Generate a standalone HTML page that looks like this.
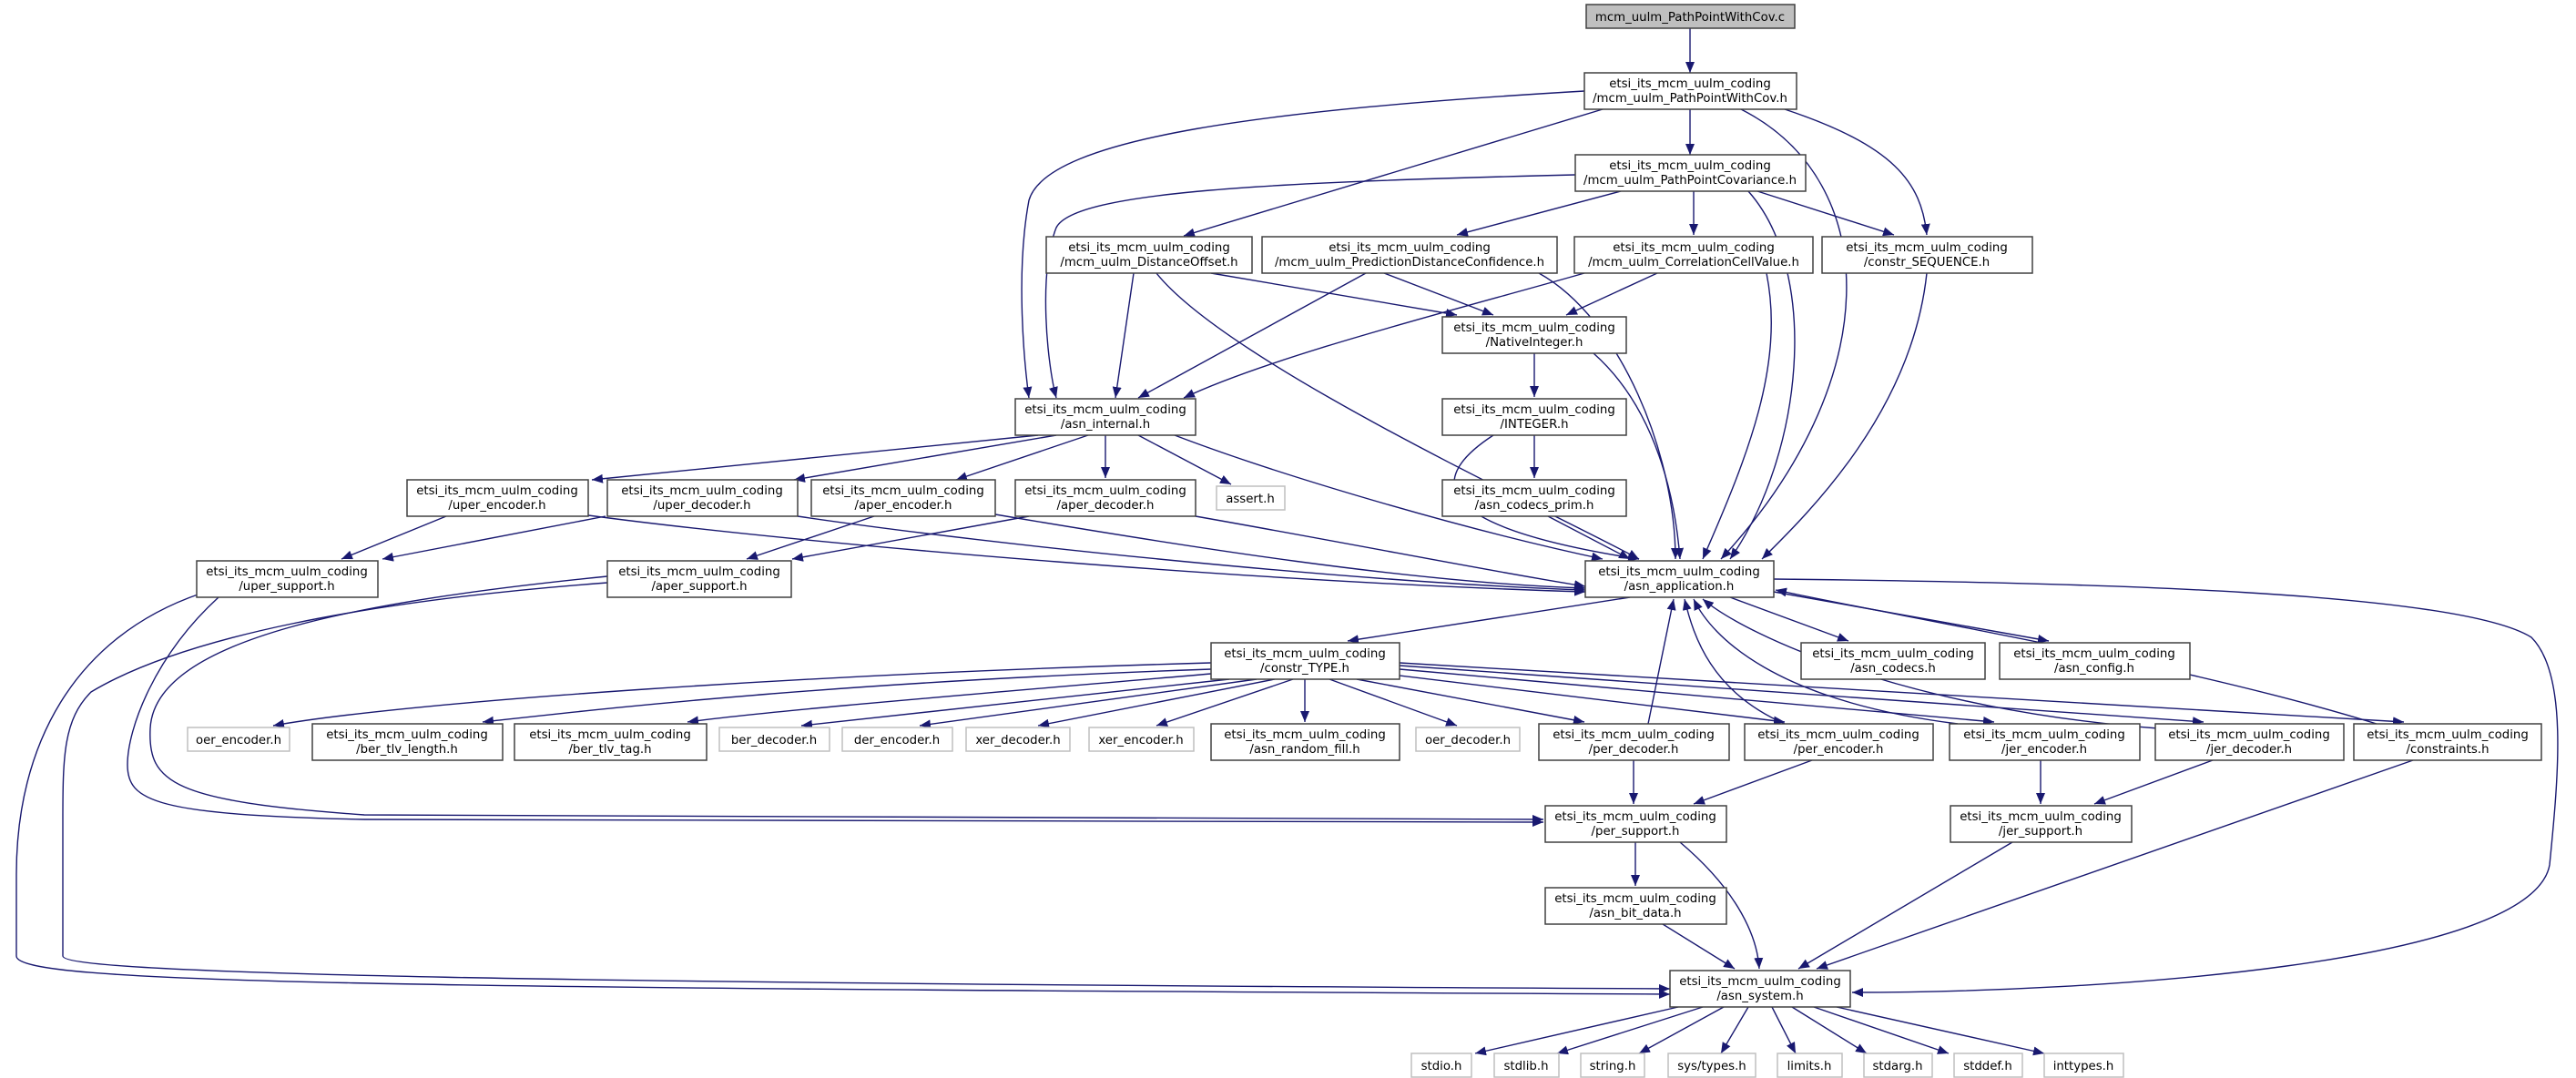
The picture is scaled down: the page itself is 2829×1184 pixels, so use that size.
<!DOCTYPE html>
<html><head><meta charset="utf-8"><style>
html,body{margin:0;padding:0;background:#fff;}
svg{display:block;}
text{font-family:"DejaVu Sans","Liberation Sans",sans-serif;font-size:13.3px;fill:#000;text-anchor:middle;}
.n{fill:#fff;stroke:#404040;stroke-width:1.5;}
.g{fill:#fff;stroke:#bfbfbf;stroke-width:1.5;}
.e{fill:none;stroke:#191970;stroke-width:1.4;marker-end:url(#a);}
</style></head><body>
<svg width="2829" height="1184" viewBox="0 0 2829 1184" xmlns="http://www.w3.org/2000/svg">
<defs><marker id="a" markerWidth="12" markerHeight="10" refX="12" refY="5" orient="auto" markerUnits="userSpaceOnUse"><path d="M0,0 L12,5 L0,10 z" fill="#191970"/></marker></defs>
<g>
<path class="e" d="M1856,31 L1856,80"/>
<path class="e" d="M1856,120 L1856,170"/>
<path class="e" d="M1760,120 L1300,259"/>
<path class="e" d="M1740,100 C1400,120 1150,150 1130,220 C1115,300 1125,400 1130,437"/>
<path class="e" d="M1912,120 C2070,200 2070,420 1890,614"/>
<path class="e" d="M1960,120 C2080,160 2110,200 2116,258"/>
<path class="e" d="M1780,210 L1600,258"/>
<path class="e" d="M1860,210 L1860,258"/>
<path class="e" d="M1930,210 L2080,258"/>
<path class="e" d="M1730,192 C1400,200 1180,210 1160,250 C1140,300 1150,400 1160,437"/>
<path class="e" d="M1920,210 C2000,300 1980,500 1900,614"/>
<path class="e" d="M1245,300 L1225,437"/>
<path class="e" d="M1330,300 L1600,346"/>
<path class="e" d="M1270,300 C1350,400 1700,560 1800,614"/>
<path class="e" d="M1520,300 L1640,346"/>
<path class="e" d="M1500,300 L1250,437"/>
<path class="e" d="M1690,300 C1780,350 1840,500 1840,614"/>
<path class="e" d="M1820,300 L1720,346"/>
<path class="e" d="M1740,300 C1600,340 1400,390 1300,437"/>
<path class="e" d="M1940,300 C1960,400 1920,500 1870,614"/>
<path class="e" d="M2116,300 C2100,450 1990,560 1935,614"/>
<path class="e" d="M1685,388 L1685,436"/>
<path class="e" d="M1750,388 C1820,450 1840,550 1845,614"/>
<path class="e" d="M1685,478 L1685,525"/>
<path class="e" d="M1640,478 C1560,530 1580,580 1800,614"/>
<path class="e" d="M1700,567 L1790,614"/>
<path class="e" d="M1140,478 L650,527"/>
<path class="e" d="M1160,478 L872,527"/>
<path class="e" d="M1195,478 L1050,527"/>
<path class="e" d="M1214,478 L1214,525"/>
<path class="e" d="M1250,478 L1352,532"/>
<path class="e" d="M1290,478 C1400,520 1600,580 1760,614"/>
<path class="e" d="M490,567 L375,614"/>
<path class="e" d="M646,566 C900,600 1400,640 1741,650"/>
<path class="e" d="M665,567 L420,614"/>
<path class="e" d="M876,567 C1100,600 1500,640 1741,648"/>
<path class="e" d="M960,567 L820,614"/>
<path class="e" d="M1093,565 C1300,600 1550,640 1741,646"/>
<path class="e" d="M1130,567 L870,614"/>
<path class="e" d="M1313,567 C1500,600 1650,630 1741,644"/>
<path class="e" d="M220,652 C80,700 18,820 18,960 L18,1050 C18,1080 400,1085 1834,1092"/>
<path class="e" d="M667,640 C400,660 200,700 100,760 C70,790 69,830 69,900 L69,1050 C69,1070 600,1080 1834,1086"/>
<path class="e" d="M240,656 C170,720 140,800 140,840 C140,880 170,895 400,900 L1695,903"/>
<path class="e" d="M667,633 C400,660 170,700 165,800 C162,860 190,880 400,895 L1695,900"/>
<path class="e" d="M1790,656 L1480,704"/>
<path class="e" d="M1900,656 L2030,704"/>
<path class="e" d="M1948,650 L2250,704"/>
<path class="e" d="M1948,636 C2300,640 2700,650 2780,700 C2820,740 2810,850 2800,950 C2780,1060 2300,1090 2034,1090"/>
<path class="e" d="M1330,728 C900,740 450,770 300,797"/>
<path class="e" d="M1330,735 C900,750 650,780 530,793"/>
<path class="e" d="M1330,740 C1100,760 850,780 755,793"/>
<path class="e" d="M1350,746 L880,797"/>
<path class="e" d="M1380,746 L1010,797"/>
<path class="e" d="M1400,746 L1140,797"/>
<path class="e" d="M1420,746 L1270,797"/>
<path class="e" d="M1433,746 L1433,793"/>
<path class="e" d="M1460,746 L1600,797"/>
<path class="e" d="M1490,746 L1740,793"/>
<path class="e" d="M1520,740 L1960,793"/>
<path class="e" d="M1537,735 L2190,793"/>
<path class="e" d="M1537,731 L2420,793"/>
<path class="e" d="M1537,728 L2640,793"/>
<path class="e" d="M1810,795 L1838,658"/>
<path class="e" d="M1960,795 C1880,760 1860,700 1850,658"/>
<path class="e" d="M2150,795 C1950,770 1880,700 1860,658"/>
<path class="e" d="M2370,800 C2100,780 1920,700 1870,658"/>
<path class="e" d="M2610,795 C2400,730 2100,680 1950,648"/>
<path class="e" d="M1794,835 L1794,883"/>
<path class="e" d="M1990,835 L1860,883"/>
<path class="e" d="M2241,835 L2241,883"/>
<path class="e" d="M2430,835 L2300,883"/>
<path class="e" d="M1796,925 L1796,973"/>
<path class="e" d="M1845,925 C1910,980 1930,1030 1932,1064"/>
<path class="e" d="M1826,1015 L1905,1064"/>
<path class="e" d="M2210,925 L1975,1064"/>
<path class="e" d="M2650,835 L1995,1064"/>
<path class="e" d="M1843,1106 L1620,1157"/>
<path class="e" d="M1870,1106 L1710,1157"/>
<path class="e" d="M1893,1106 L1800,1157"/>
<path class="e" d="M1920,1106 L1890,1157"/>
<path class="e" d="M1946,1106 L1972,1157"/>
<path class="e" d="M1968,1106 L2050,1157"/>
<path class="e" d="M1992,1106 L2140,1157"/>
<path class="e" d="M2017,1106 L2245,1157"/>
</g>
<g>
<rect x="1742" y="5" width="229" height="26" fill="#bfbfbf" stroke="#404040" stroke-width="1.5"/><text x="1856" y="23">mcm_uulm_PathPointWithCov.c</text>
<rect class="n" x="1740" y="80" width="233" height="40"/><text x="1856" y="96">etsi_its_mcm_uulm_coding</text><text x="1856" y="112">/mcm_uulm_PathPointWithCov.h</text>
<rect class="n" x="1730" y="170" width="253" height="40"/><text x="1856" y="186">etsi_its_mcm_uulm_coding</text><text x="1856" y="202">/mcm_uulm_PathPointCovariance.h</text>
<rect class="n" x="1149" y="260" width="226" height="40"/><text x="1262" y="276">etsi_its_mcm_uulm_coding</text><text x="1262" y="292">/mcm_uulm_DistanceOffset.h</text>
<rect class="n" x="1386" y="260" width="324" height="40"/><text x="1548" y="276">etsi_its_mcm_uulm_coding</text><text x="1548" y="292">/mcm_uulm_PredictionDistanceConfidence.h</text>
<rect class="n" x="1729" y="260" width="262" height="40"/><text x="1860" y="276">etsi_its_mcm_uulm_coding</text><text x="1860" y="292">/mcm_uulm_CorrelationCellValue.h</text>
<rect class="n" x="2001" y="260" width="231" height="40"/><text x="2116" y="276">etsi_its_mcm_uulm_coding</text><text x="2116" y="292">/constr_SEQUENCE.h</text>
<rect class="n" x="1584" y="348" width="202" height="40"/><text x="1685" y="364">etsi_its_mcm_uulm_coding</text><text x="1685" y="380">/NativeInteger.h</text>
<rect class="n" x="1115" y="438" width="198" height="40"/><text x="1214" y="454">etsi_its_mcm_uulm_coding</text><text x="1214" y="470">/asn_internal.h</text>
<rect class="n" x="1584" y="438" width="202" height="40"/><text x="1685" y="454">etsi_its_mcm_uulm_coding</text><text x="1685" y="470">/INTEGER.h</text>
<rect class="n" x="447" y="527" width="199" height="40"/><text x="546" y="543">etsi_its_mcm_uulm_coding</text><text x="546" y="559">/uper_encoder.h</text>
<rect class="n" x="667" y="527" width="209" height="40"/><text x="771" y="543">etsi_its_mcm_uulm_coding</text><text x="771" y="559">/uper_decoder.h</text>
<rect class="n" x="891" y="527" width="202" height="40"/><text x="992" y="543">etsi_its_mcm_uulm_coding</text><text x="992" y="559">/aper_encoder.h</text>
<rect class="n" x="1115" y="527" width="198" height="40"/><text x="1214" y="543">etsi_its_mcm_uulm_coding</text><text x="1214" y="559">/aper_decoder.h</text>
<rect class="g" x="1336" y="534" width="75" height="26"/><text x="1373" y="552">assert.h</text>
<rect class="n" x="1584" y="527" width="202" height="40"/><text x="1685" y="543">etsi_its_mcm_uulm_coding</text><text x="1685" y="559">/asn_codecs_prim.h</text>
<rect class="n" x="216" y="616" width="199" height="40"/><text x="315" y="632">etsi_its_mcm_uulm_coding</text><text x="315" y="648">/uper_support.h</text>
<rect class="n" x="667" y="616" width="202" height="40"/><text x="768" y="632">etsi_its_mcm_uulm_coding</text><text x="768" y="648">/aper_support.h</text>
<rect class="n" x="1741" y="616" width="207" height="40"/><text x="1844" y="632">etsi_its_mcm_uulm_coding</text><text x="1844" y="648">/asn_application.h</text>
<rect class="n" x="1330" y="706" width="207" height="40"/><text x="1433" y="722">etsi_its_mcm_uulm_coding</text><text x="1433" y="738">/constr_TYPE.h</text>
<rect class="n" x="1978" y="706" width="202" height="40"/><text x="2079" y="722">etsi_its_mcm_uulm_coding</text><text x="2079" y="738">/asn_codecs.h</text>
<rect class="n" x="2196" y="706" width="209" height="40"/><text x="2300" y="722">etsi_its_mcm_uulm_coding</text><text x="2300" y="738">/asn_config.h</text>
<rect class="g" x="206" y="799" width="112" height="26"/><text x="262" y="817">oer_encoder.h</text>
<rect class="n" x="343" y="795" width="209" height="40"/><text x="447" y="811">etsi_its_mcm_uulm_coding</text><text x="447" y="827">/ber_tlv_length.h</text>
<rect class="n" x="565" y="795" width="211" height="40"/><text x="670" y="811">etsi_its_mcm_uulm_coding</text><text x="670" y="827">/ber_tlv_tag.h</text>
<rect class="g" x="790" y="799" width="121" height="26"/><text x="850" y="817">ber_decoder.h</text>
<rect class="g" x="925" y="799" width="121" height="26"/><text x="985" y="817">der_encoder.h</text>
<rect class="g" x="1061" y="799" width="114" height="26"/><text x="1118" y="817">xer_decoder.h</text>
<rect class="g" x="1196" y="799" width="115" height="26"/><text x="1253" y="817">xer_encoder.h</text>
<rect class="n" x="1330" y="795" width="207" height="40"/><text x="1433" y="811">etsi_its_mcm_uulm_coding</text><text x="1433" y="827">/asn_random_fill.h</text>
<rect class="g" x="1555" y="799" width="114" height="26"/><text x="1612" y="817">oer_decoder.h</text>
<rect class="n" x="1690" y="795" width="209" height="40"/><text x="1794" y="811">etsi_its_mcm_uulm_coding</text><text x="1794" y="827">/per_decoder.h</text>
<rect class="n" x="1916" y="795" width="207" height="40"/><text x="2019" y="811">etsi_its_mcm_uulm_coding</text><text x="2019" y="827">/per_encoder.h</text>
<rect class="n" x="2141" y="795" width="209" height="40"/><text x="2245" y="811">etsi_its_mcm_uulm_coding</text><text x="2245" y="827">/jer_encoder.h</text>
<rect class="n" x="2367" y="795" width="207" height="40"/><text x="2470" y="811">etsi_its_mcm_uulm_coding</text><text x="2470" y="827">/jer_decoder.h</text>
<rect class="n" x="2585" y="795" width="206" height="40"/><text x="2688" y="811">etsi_its_mcm_uulm_coding</text><text x="2688" y="827">/constraints.h</text>
<rect class="n" x="1697" y="885" width="199" height="40"/><text x="1796" y="901">etsi_its_mcm_uulm_coding</text><text x="1796" y="917">/per_support.h</text>
<rect class="n" x="2142" y="885" width="199" height="40"/><text x="2241" y="901">etsi_its_mcm_uulm_coding</text><text x="2241" y="917">/jer_support.h</text>
<rect class="n" x="1697" y="975" width="199" height="40"/><text x="1796" y="991">etsi_its_mcm_uulm_coding</text><text x="1796" y="1007">/asn_bit_data.h</text>
<rect class="n" x="1834" y="1066" width="198" height="40"/><text x="1933" y="1082">etsi_its_mcm_uulm_coding</text><text x="1933" y="1098">/asn_system.h</text>
<rect class="g" x="1550" y="1157" width="66" height="26"/><text x="1583" y="1175">stdio.h</text>
<rect class="g" x="1641" y="1157" width="71" height="26"/><text x="1676" y="1175">stdlib.h</text>
<rect class="g" x="1736" y="1157" width="70" height="26"/><text x="1771" y="1175">string.h</text>
<rect class="g" x="1832" y="1157" width="96" height="26"/><text x="1880" y="1175">sys/types.h</text>
<rect class="g" x="1952" y="1157" width="71" height="26"/><text x="1987" y="1175">limits.h</text>
<rect class="g" x="2047" y="1157" width="75" height="26"/><text x="2084" y="1175">stdarg.h</text>
<rect class="g" x="2146" y="1157" width="75" height="26"/><text x="2183" y="1175">stddef.h</text>
<rect class="g" x="2245" y="1157" width="87" height="26"/><text x="2288" y="1175">inttypes.h</text>
</g>
</svg>
</body></html>
